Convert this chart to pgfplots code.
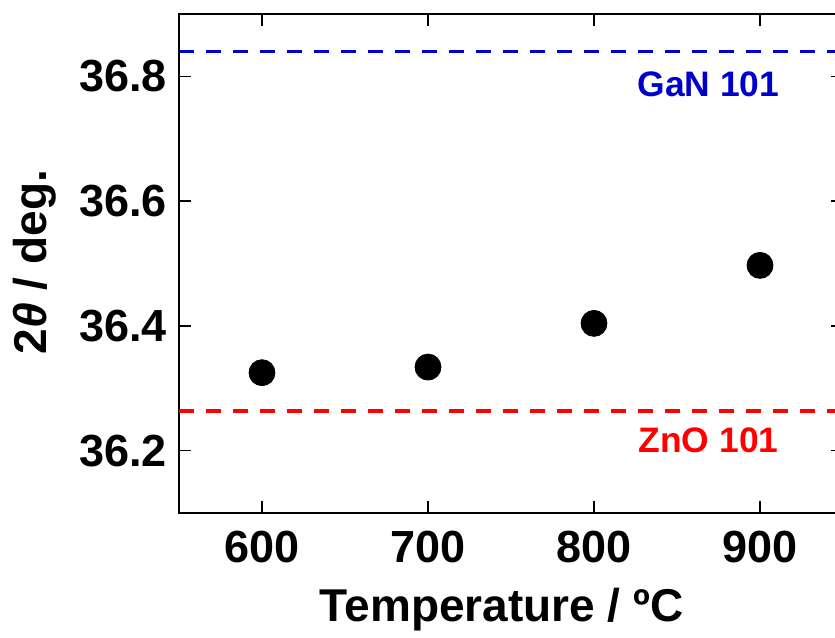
\documentclass[border=0pt]{standalone}
\usepackage{pgfplots}
\pgfplotsset{compat=1.18}
\usepackage{fontspec}
\setmainfont{Liberation Sans}
\definecolor{gancol}{RGB}{0,0,204}
\definecolor{znocol}{RGB}{255,0,0}
\begin{document}
\begin{tikzpicture}
\begin{axis}[
  scale only axis, width=332pt, height=249.5pt,
  xmin=550, xmax=950, ymin=36.1, ymax=36.9,
  xtick={600,700,800,900}, ytick={36.2,36.4,36.6,36.8},
  tick align=inside, major tick length=6pt,
  tick style={black, line width=0.8pt},
  axis line style={line width=0.8pt},
  /pgf/number format/assume math mode=true,
  ticklabel style={font=\fontsize{22.5}{27}\selectfont\bfseries, inner sep=0pt},
  yticklabel style={/pgf/number format/.cd, fixed, fixed zerofill, precision=1, /tikz/.cd, anchor=east, xshift=-6pt},
  xticklabel style={anchor=center, yshift=-17pt},
  xlabel={Temperature / ºC},
  ylabel={2\textit{θ} / deg.},
  label style={font=\fontsize{23}{28}\selectfont\bfseries},
  xlabel style={at={(axis description cs:0.486,0)}, anchor=center, yshift=-48.5pt},
  ylabel style={at={(axis description cs:0,0.503)}, anchor=center, yshift=72pt},
]
\addplot[gancol, line width=1.8pt, dash pattern=on 7.5pt off 6pt] coordinates {(550,36.84) (950,36.84)};
\addplot[znocol, line width=1.8pt, dash pattern=on 7.5pt off 6pt] coordinates {(550,36.264) (950,36.264)};
\addplot[only marks, mark=*, mark size=6.5pt, black] coordinates {
  (600,36.325) (700,36.334) (800,36.404) (900,36.497)};
\node[text=gancol, font=\fontsize{17.7}{21}\selectfont\bfseries] at (axis cs:869,36.787) {GaN 101};
\node[text=znocol, font=\fontsize{17.7}{21}\selectfont\bfseries] at (axis cs:869,36.216) {ZnO 101};
\end{axis}
\pgfresetboundingbox
\path[use as bounding box] ([xshift=-89.5pt,yshift=-62pt]current axis.south west) rectangle ([xshift=-4pt,yshift=7pt]current axis.north east);
\end{tikzpicture}
\end{document}
